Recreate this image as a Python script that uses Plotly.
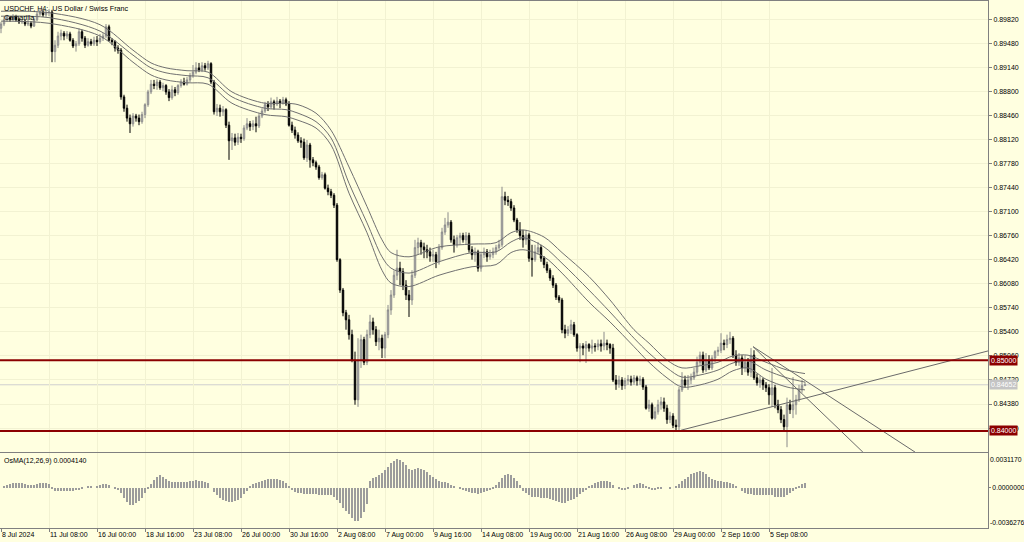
import plotly.graph_objects as go

# ---------------- data ----------------
bar_index = list(range(269))

open_ = [
    0.8969, 0.8975, 0.8981, 0.8984, 0.8982, 0.8985, 0.8981, 0.8978, 0.8979, 0.8975,
    0.8976, 0.8972, 0.8981, 0.8989, 0.8992, 0.8988, 0.8991, 0.8992, 0.8936, 0.8945,
    0.8958, 0.8962, 0.8958, 0.8961, 0.8952, 0.8944, 0.8947, 0.8964, 0.8955, 0.8945,
    0.8950, 0.8947, 0.8952, 0.8950, 0.8955, 0.8958, 0.8971, 0.8952, 0.8950, 0.8941,
    0.8938, 0.8872, 0.8856, 0.8842, 0.8834, 0.8845, 0.8842, 0.8837, 0.8847, 0.8861,
    0.8879, 0.8890, 0.8888, 0.8893, 0.8885, 0.8888, 0.8879, 0.8871, 0.8882, 0.8878,
    0.8888, 0.8893, 0.8890, 0.8896, 0.8902, 0.8907, 0.8913, 0.8910, 0.8916, 0.8913,
    0.8919, 0.8893, 0.8851, 0.8856, 0.8851, 0.8854, 0.8832, 0.8810, 0.8814, 0.8808,
    0.8815, 0.8813, 0.8828, 0.8834, 0.8830, 0.8834, 0.8831, 0.8845, 0.8852, 0.8861,
    0.8858, 0.8865, 0.8862, 0.8866, 0.8863, 0.8868, 0.8862, 0.8832, 0.8825, 0.8818,
    0.8810, 0.8808, 0.8786, 0.8804, 0.8783, 0.8779, 0.8773, 0.8758, 0.8762, 0.8743,
    0.8738, 0.8733, 0.8719, 0.8642, 0.8599, 0.8567, 0.8557, 0.8536, 0.8500, 0.8444,
    0.8500, 0.8529, 0.8497, 0.8536, 0.8554, 0.8543, 0.8526, 0.8531, 0.8517, 0.8536,
    0.8571, 0.8592, 0.8620, 0.8630, 0.8625, 0.8606, 0.8592, 0.8585, 0.8620, 0.8659,
    0.8666, 0.8660, 0.8656, 0.8653, 0.8647, 0.8649, 0.8639, 0.8659, 0.8681, 0.8691,
    0.8695, 0.8670, 0.8663, 0.8673, 0.8676, 0.8670, 0.8676, 0.8656, 0.8649, 0.8653,
    0.8630, 0.8649, 0.8653, 0.8646, 0.8649, 0.8653, 0.8659, 0.8663, 0.8731, 0.8726,
    0.8724, 0.8715, 0.8698, 0.8684, 0.8676, 0.8670, 0.8677, 0.8644, 0.8642, 0.8653,
    0.8659, 0.8644, 0.8635, 0.8627, 0.8616, 0.8606, 0.8589, 0.8585, 0.8543, 0.8538,
    0.8543, 0.8550, 0.8536, 0.8517, 0.8520, 0.8517, 0.8522, 0.8517, 0.8520, 0.8519,
    0.8523, 0.8520, 0.8524, 0.8522, 0.8517, 0.8472, 0.8466, 0.8472, 0.8464, 0.8471,
    0.8473, 0.8469, 0.8475, 0.8471, 0.8473, 0.8462, 0.8432, 0.8437, 0.8418, 0.8427,
    0.8437, 0.8441, 0.8432, 0.8416, 0.8421, 0.8408, 0.8406, 0.8458, 0.8472, 0.8465,
    0.8472, 0.8475, 0.8483, 0.8497, 0.8507, 0.8486, 0.8500, 0.8489, 0.8503, 0.8512,
    0.8514, 0.8524, 0.8522, 0.8529, 0.8531, 0.8507, 0.8497, 0.8503, 0.8489, 0.8497,
    0.8483, 0.8507, 0.8475, 0.8468, 0.8472, 0.8465, 0.8461, 0.8451, 0.8461, 0.8437,
    0.8430, 0.8416, 0.8406, 0.8437, 0.8430, 0.8437, 0.8444, 0.8458, 0.8464,
]

high = [
    0.8978, 0.8985, 0.8988, 0.8986, 0.8989, 0.8988, 0.8984, 0.8982, 0.8982, 0.8981,
    0.8979, 0.8984, 0.8993, 0.8996, 0.8995, 0.8995, 0.8996, 0.8995, 0.8952, 0.8964,
    0.8967, 0.8965, 0.8965, 0.8964, 0.8955, 0.8951, 0.8969, 0.8967, 0.8958, 0.8955,
    0.8954, 0.8957, 0.8958, 0.8961, 0.8962, 0.8975, 0.8974, 0.8955, 0.8952, 0.8945,
    0.8941, 0.8875, 0.8861, 0.8847, 0.8849, 0.8848, 0.8847, 0.8851, 0.8863, 0.8882,
    0.8896, 0.8896, 0.8897, 0.8896, 0.8892, 0.8890, 0.8883, 0.8888, 0.8886, 0.8890,
    0.8897, 0.8899, 0.8900, 0.8906, 0.8917, 0.8921, 0.8920, 0.8921, 0.8920, 0.8923,
    0.8921, 0.8896, 0.8862, 0.8861, 0.8859, 0.8856, 0.8837, 0.8821, 0.8820, 0.8821,
    0.8820, 0.8832, 0.8842, 0.8838, 0.8839, 0.8844, 0.8849, 0.8856, 0.8865, 0.8866,
    0.8871, 0.8868, 0.8872, 0.8869, 0.8872, 0.8871, 0.8866, 0.8837, 0.8830, 0.8822,
    0.8815, 0.8813, 0.8811, 0.8807, 0.8787, 0.8782, 0.8776, 0.8766, 0.8765, 0.8748,
    0.8742, 0.8736, 0.8722, 0.8644, 0.8602, 0.8571, 0.8564, 0.8543, 0.8512, 0.8531,
    0.8536, 0.8533, 0.8543, 0.8564, 0.8560, 0.8548, 0.8543, 0.8536, 0.8540, 0.8578,
    0.8599, 0.8627, 0.8656, 0.8639, 0.8630, 0.8613, 0.8599, 0.8627, 0.8670, 0.8673,
    0.8670, 0.8666, 0.8663, 0.8659, 0.8656, 0.8653, 0.8664, 0.8687, 0.8701, 0.8709,
    0.8698, 0.8676, 0.8677, 0.8680, 0.8680, 0.8681, 0.8680, 0.8661, 0.8659, 0.8656,
    0.8653, 0.8659, 0.8657, 0.8656, 0.8659, 0.8663, 0.8670, 0.8745, 0.8738, 0.8732,
    0.8728, 0.8719, 0.8701, 0.8695, 0.8684, 0.8684, 0.8680, 0.8663, 0.8663, 0.8667,
    0.8663, 0.8647, 0.8639, 0.8630, 0.8620, 0.8609, 0.8592, 0.8588, 0.8550, 0.8548,
    0.8557, 0.8554, 0.8538, 0.8524, 0.8524, 0.8527, 0.8524, 0.8529, 0.8524, 0.8529,
    0.8529, 0.8540, 0.8529, 0.8524, 0.8523, 0.8479, 0.8478, 0.8476, 0.8475, 0.8479,
    0.8478, 0.8479, 0.8478, 0.8478, 0.8476, 0.8465, 0.8444, 0.8440, 0.8434, 0.8444,
    0.8448, 0.8447, 0.8437, 0.8427, 0.8425, 0.8416, 0.8462, 0.8483, 0.8478, 0.8479,
    0.8481, 0.8489, 0.8505, 0.8512, 0.8512, 0.8510, 0.8507, 0.8507, 0.8514, 0.8519,
    0.8538, 0.8529, 0.8536, 0.8540, 0.8534, 0.8514, 0.8510, 0.8507, 0.8507, 0.8503,
    0.8517, 0.8514, 0.8481, 0.8478, 0.8475, 0.8469, 0.8466, 0.8489, 0.8465, 0.8444,
    0.8435, 0.8423, 0.8447, 0.8444, 0.8476, 0.8451, 0.8465, 0.8472, 0.8469,
]

low = [
    0.8962, 0.8972, 0.8978, 0.8978, 0.8979, 0.8978, 0.8975, 0.8975, 0.8972, 0.8972,
    0.8969, 0.8971, 0.8979, 0.8986, 0.8985, 0.8985, 0.8986, 0.8921, 0.8921, 0.8941,
    0.8952, 0.8952, 0.8954, 0.8950, 0.8941, 0.8936, 0.8944, 0.8950, 0.8941, 0.8943,
    0.8944, 0.8944, 0.8944, 0.8947, 0.8951, 0.8955, 0.8950, 0.8945, 0.8936, 0.8933,
    0.8868, 0.8851, 0.8837, 0.8821, 0.8830, 0.8837, 0.8832, 0.8834, 0.8842, 0.8858,
    0.8876, 0.8883, 0.8882, 0.8882, 0.8880, 0.8875, 0.8866, 0.8868, 0.8873, 0.8875,
    0.8885, 0.8888, 0.8888, 0.8893, 0.8899, 0.8904, 0.8907, 0.8907, 0.8909, 0.8910,
    0.8890, 0.8847, 0.8845, 0.8844, 0.8845, 0.8828, 0.8783, 0.8797, 0.8803, 0.8804,
    0.8807, 0.8810, 0.8825, 0.8824, 0.8825, 0.8822, 0.8828, 0.8842, 0.8849, 0.8852,
    0.8855, 0.8854, 0.8859, 0.8856, 0.8861, 0.8859, 0.8830, 0.8821, 0.8813, 0.8807,
    0.8800, 0.8783, 0.8780, 0.8772, 0.8774, 0.8769, 0.8755, 0.8755, 0.8741, 0.8733,
    0.8729, 0.8715, 0.8639, 0.8595, 0.8562, 0.8543, 0.8529, 0.8497, 0.8437, 0.8434,
    0.8489, 0.8493, 0.8493, 0.8531, 0.8536, 0.8520, 0.8514, 0.8503, 0.8503, 0.8531,
    0.8564, 0.8588, 0.8613, 0.8606, 0.8599, 0.8585, 0.8561, 0.8578, 0.8616, 0.8649,
    0.8649, 0.8644, 0.8644, 0.8639, 0.8639, 0.8630, 0.8635, 0.8656, 0.8677, 0.8687,
    0.8666, 0.8652, 0.8659, 0.8663, 0.8666, 0.8663, 0.8652, 0.8642, 0.8639, 0.8625,
    0.8625, 0.8644, 0.8639, 0.8642, 0.8644, 0.8649, 0.8656, 0.8660, 0.8719, 0.8718,
    0.8711, 0.8695, 0.8680, 0.8670, 0.8659, 0.8663, 0.8639, 0.8618, 0.8639, 0.8649,
    0.8639, 0.8630, 0.8623, 0.8612, 0.8602, 0.8585, 0.8581, 0.8538, 0.8531, 0.8534,
    0.8537, 0.8533, 0.8512, 0.8497, 0.8507, 0.8496, 0.8512, 0.8509, 0.8512, 0.8514,
    0.8512, 0.8514, 0.8514, 0.8509, 0.8469, 0.8458, 0.8461, 0.8458, 0.8459, 0.8465,
    0.8464, 0.8465, 0.8464, 0.8465, 0.8458, 0.8430, 0.8427, 0.8416, 0.8416, 0.8423,
    0.8430, 0.8427, 0.8410, 0.8411, 0.8404, 0.8401, 0.8401, 0.8455, 0.8461, 0.8458,
    0.8466, 0.8472, 0.8479, 0.8492, 0.8482, 0.8483, 0.8486, 0.8486, 0.8497, 0.8506,
    0.8510, 0.8514, 0.8517, 0.8523, 0.8503, 0.8492, 0.8492, 0.8479, 0.8483, 0.8478,
    0.8476, 0.8472, 0.8464, 0.8461, 0.8458, 0.8455, 0.8437, 0.8434, 0.8432, 0.8425,
    0.8411, 0.8401, 0.8377, 0.8424, 0.8418, 0.8423, 0.8441, 0.8454, 0.8464,
]

close = [
    0.8975, 0.8981, 0.8984, 0.8982, 0.8985, 0.8981, 0.8978, 0.8979, 0.8975, 0.8976,
    0.8972, 0.8981, 0.8989, 0.8992, 0.8988, 0.8991, 0.8992, 0.8936, 0.8945, 0.8958,
    0.8962, 0.8958, 0.8961, 0.8952, 0.8944, 0.8947, 0.8964, 0.8955, 0.8945, 0.8950,
    0.8947, 0.8952, 0.8950, 0.8955, 0.8958, 0.8971, 0.8952, 0.8950, 0.8941, 0.8938,
    0.8872, 0.8856, 0.8842, 0.8834, 0.8845, 0.8842, 0.8837, 0.8847, 0.8861, 0.8879,
    0.8890, 0.8888, 0.8893, 0.8885, 0.8888, 0.8879, 0.8871, 0.8882, 0.8878, 0.8888,
    0.8893, 0.8890, 0.8896, 0.8902, 0.8907, 0.8913, 0.8910, 0.8916, 0.8913, 0.8919,
    0.8893, 0.8851, 0.8856, 0.8851, 0.8854, 0.8832, 0.8810, 0.8814, 0.8808, 0.8815,
    0.8813, 0.8828, 0.8834, 0.8830, 0.8834, 0.8831, 0.8845, 0.8852, 0.8861, 0.8858,
    0.8865, 0.8862, 0.8866, 0.8863, 0.8868, 0.8862, 0.8832, 0.8825, 0.8818, 0.8810,
    0.8808, 0.8786, 0.8804, 0.8783, 0.8779, 0.8773, 0.8758, 0.8762, 0.8743, 0.8738,
    0.8733, 0.8719, 0.8642, 0.8599, 0.8567, 0.8557, 0.8536, 0.8500, 0.8444, 0.8500,
    0.8529, 0.8497, 0.8536, 0.8554, 0.8543, 0.8526, 0.8531, 0.8517, 0.8536, 0.8571,
    0.8592, 0.8620, 0.8630, 0.8625, 0.8606, 0.8592, 0.8585, 0.8620, 0.8659, 0.8666,
    0.8660, 0.8656, 0.8653, 0.8647, 0.8649, 0.8639, 0.8659, 0.8681, 0.8691, 0.8695,
    0.8670, 0.8663, 0.8673, 0.8676, 0.8670, 0.8676, 0.8656, 0.8649, 0.8653, 0.8630,
    0.8649, 0.8653, 0.8646, 0.8649, 0.8653, 0.8659, 0.8663, 0.8731, 0.8726, 0.8724,
    0.8715, 0.8698, 0.8684, 0.8676, 0.8670, 0.8677, 0.8644, 0.8642, 0.8653, 0.8659,
    0.8644, 0.8635, 0.8627, 0.8616, 0.8606, 0.8589, 0.8585, 0.8543, 0.8538, 0.8543,
    0.8550, 0.8536, 0.8517, 0.8520, 0.8517, 0.8522, 0.8517, 0.8520, 0.8519, 0.8523,
    0.8520, 0.8524, 0.8522, 0.8517, 0.8472, 0.8466, 0.8472, 0.8464, 0.8471, 0.8473,
    0.8469, 0.8475, 0.8471, 0.8473, 0.8462, 0.8432, 0.8437, 0.8418, 0.8427, 0.8437,
    0.8441, 0.8432, 0.8416, 0.8421, 0.8408, 0.8406, 0.8458, 0.8472, 0.8465, 0.8472,
    0.8475, 0.8483, 0.8497, 0.8507, 0.8486, 0.8500, 0.8489, 0.8503, 0.8512, 0.8514,
    0.8524, 0.8522, 0.8529, 0.8531, 0.8507, 0.8497, 0.8503, 0.8489, 0.8497, 0.8483,
    0.8507, 0.8475, 0.8468, 0.8472, 0.8465, 0.8461, 0.8451, 0.8461, 0.8437, 0.8430,
    0.8416, 0.8406, 0.8437, 0.8430, 0.8437, 0.8444, 0.8458, 0.8464, 0.84652,
]

osma = [
    0.0, 0.0001, 0.0002, 0.0003, 0.0004, 0.00045, 0.00045, 0.0004, 0.0003, 0.0002,
    0.0002, 0.0002, 0.0003, 0.0004, 0.0004, 0.0004, 0.00035, -0.0001, -0.0003, -0.0003,
    -0.0003, -0.0003, -0.0003, -0.0003, -0.0003, -0.0002, -0.0002, -0.0001, 0.0, 0.0001,
    0.0001, 0.0, 0.0001, 0.0002, 0.0003, 0.0003, 0.0002, 0.0, -0.0001, -0.0002,
    -0.0005, -0.0009, -0.0013, -0.0016, -0.0016, -0.0014, -0.0012, -0.0009, -0.0005, -0.0001,
    0.0003, 0.0007, 0.0010, 0.0011, 0.0010, 0.0008, 0.0006, 0.0005, 0.0005, 0.0005,
    0.0005, 0.0005, 0.0005, 0.0006, 0.0006, 0.0007, 0.0006, 0.0006, 0.0005, 0.0004,
    0.0, -0.0004, -0.0007, -0.0009, -0.0011, -0.0012, -0.0013, -0.0013, -0.0012, -0.0011,
    -0.0009, -0.0006, -0.0003, 0.0001, 0.0003, 0.0004, 0.0005, 0.0006, 0.0007, 0.0008,
    0.0008, 0.0008, 0.0008, 0.0007, 0.0006, 0.0004, 0.0001, -0.0002, -0.0004, -0.0005,
    -0.0005, -0.0006, -0.0006, -0.0006, -0.0006, -0.0006, -0.0007, -0.0007, -0.0007, -0.0007,
    -0.0007, -0.0008, -0.0011, -0.0014, -0.0018, -0.0021, -0.0024, -0.0027, -0.0030, -0.0030,
    -0.0027, -0.0022, -0.0015, 0.0006, 0.0009, 0.0010, 0.0011, 0.0013, 0.0016, 0.0019,
    0.0022, 0.0024, 0.0026, 0.0025, 0.0023, 0.0020, 0.0017, 0.0016, 0.0017, 0.0018,
    0.0017, 0.0016, 0.0014, 0.0011, 0.0010, 0.0008, 0.0006, 0.0005, 0.0005, 0.0004,
    0.0002, 0.0001, 0.0, -0.0001, -0.0002, -0.0003, -0.0004, -0.0005, -0.0005, -0.0006,
    -0.0005, -0.0004, -0.0003, -0.0002, -0.0001, 0.0002, 0.0005, 0.0009, 0.0011, 0.0012,
    0.0011, 0.0009, 0.0006, 0.0002, -0.0003, -0.0005, -0.0007, -0.0008, -0.0008, -0.0008,
    -0.0009, -0.0009, -0.0009, -0.0010, -0.0011, -0.0012, -0.0013, -0.0014, -0.0014, -0.0012,
    -0.0011, -0.0010, -0.0008, -0.0006, -0.0004, -0.0002, 0.0001, 0.0002, 0.0004, 0.0005,
    0.0006, 0.0006, 0.0006, 0.0005, 0.0002, 0.0, -0.0001, -0.0002, -0.0002, -0.0001,
    0.0, 0.0002, 0.0003, 0.0004, 0.0003, 0.0001, -0.0001, -0.0002, -0.0002, -0.0001,
    -0.0001, 0.0, 0.0, -0.0001, 0.0, 0.0001, 0.0003, 0.0006, 0.0008, 0.0010,
    0.0012, 0.0013, 0.0014, 0.0015, 0.0014, 0.0012, 0.0010, 0.0008, 0.0007, 0.0006,
    0.0006, 0.0005, 0.0005, 0.0004, 0.0003, 0.0001, 0.0, -0.0003, -0.0005, -0.0006,
    -0.0006, -0.0007, -0.0007, -0.0007, -0.0007, -0.0007, -0.0007, -0.0007, -0.0008, -0.0008,
    -0.0008, -0.0008, -0.0007, -0.0005, -0.0003, -0.0001, 0.0001, 0.0003, 0.000414,
]

# moving-average envelope lines, sampled along the chart
ma_idx = [0, 16, 33, 44, 50, 55, 62, 69, 77, 88, 95, 99, 105, 110, 116, 122, 127, 130,
          136, 146, 157, 165, 170, 174, 181, 187, 196, 203, 211, 216, 222, 227, 233,
          239, 244, 249, 255, 262, 268]
ma_upper = [0.8993, 0.8991, 0.8974, 0.8938, 0.8920, 0.8913, 0.8909, 0.8907, 0.8879,
            0.8863, 0.8863, 0.8861, 0.8849, 0.8825, 0.8773, 0.8717, 0.8670, 0.8652,
            0.8646, 0.8660, 0.8664, 0.8666, 0.8680, 0.8684, 0.8674, 0.8652, 0.8618,
            0.8585, 0.8543, 0.8524, 0.8500, 0.8489, 0.8492, 0.8497, 0.8506, 0.8507,
            0.8497, 0.8486, 0.8481]
ma_middle = [0.8986, 0.8984, 0.8965, 0.8931, 0.8913, 0.8906, 0.8902, 0.8899, 0.8872,
             0.8856, 0.8854, 0.8849, 0.8837, 0.8814, 0.8750, 0.8694, 0.8646, 0.8630,
             0.8623, 0.8639, 0.8652, 0.8653, 0.8667, 0.8673, 0.8660, 0.8637, 0.8599,
             0.8568, 0.8531, 0.8510, 0.8489, 0.8476, 0.8479, 0.8486, 0.8496, 0.8499,
             0.8486, 0.8475, 0.8469]
ma_lower = [0.8979, 0.8976, 0.8958, 0.8921, 0.8903, 0.8896, 0.8892, 0.8890, 0.8863,
            0.8847, 0.8844, 0.8839, 0.8828, 0.8804, 0.8736, 0.8680, 0.8627, 0.8609,
            0.8604, 0.8620, 0.8632, 0.8635, 0.8652, 0.8656, 0.8646, 0.8623, 0.8582,
            0.8554, 0.8519, 0.8497, 0.8475, 0.8462, 0.8465, 0.8473, 0.8485, 0.8489,
            0.8473, 0.8462, 0.8458]

# trend lines (bar index, price)
trend_up_x = [226.7, 329.0]
trend_up_y = [0.8401, 0.8513]
trend_a_x = [250.7, 287.3]
trend_a_y = [0.8519, 0.8370]
trend_b_x = [250.7, 304.7]
trend_b_y = [0.8519, 0.8370]

levels = [0.85, 0.84]
level_labels = ["0.85000", "0.84000"]
last_price = 0.84652

price_ticks = [0.89820, 0.89480, 0.89140, 0.88800, 0.88460, 0.88120, 0.87780, 0.87440,
               0.87100, 0.86760, 0.86420, 0.86080, 0.85740, 0.85400, 0.85060, 0.84720,
               0.84380, 0.84040]
time_tick_idx = [0, 16, 32, 48, 64, 80, 96, 112, 128, 144, 160, 176, 192, 208, 224, 240, 256]
time_tick_labels = ["8 Jul 2024", "11 Jul 08:00", "16 Jul 00:00", "18 Jul 16:00",
                    "23 Jul 08:00", "26 Jul 00:00", "30 Jul 16:00", "2 Aug 08:00",
                    "7 Aug 00:00", "9 Aug 16:00", "14 Aug 08:00", "19 Aug 00:00",
                    "21 Aug 16:00", "26 Aug 08:00", "29 Aug 00:00", "2 Sep 16:00",
                    "5 Sep 08:00"]
osc_max = 0.0031170
osc_min = -0.0036276
price_min = 0.83702
price_max = 0.90075

# ---------------- figure ----------------
BG = "#FFFFE0"
AX = "#808080"
GRID = "#F2F2D2"
FONT = "Liberation Sans, Arial, sans-serif"

fig = go.Figure()

fig.add_trace(go.Candlestick(
    x=bar_index, open=open_, high=high, low=low, close=close,
    increasing=dict(line=dict(color="#8A8A8A", width=1), fillcolor="#C8C8C8"),
    decreasing=dict(line=dict(color="#000000", width=1), fillcolor="#000000"),
    whiskerwidth=0, xaxis="x", yaxis="y", showlegend=False, hoverinfo="skip"))

for series in (ma_upper, ma_middle, ma_lower):
    fig.add_trace(go.Scatter(
        x=ma_idx, y=series, mode="lines", xaxis="x", yaxis="y",
        line=dict(color="#707070", width=1, shape="spline", smoothing=0.9),
        showlegend=False, hoverinfo="skip"))

for tx, ty in ((trend_up_x, trend_up_y), (trend_a_x, trend_a_y), (trend_b_x, trend_b_y)):
    fig.add_trace(go.Scatter(
        x=tx, y=ty, mode="lines", xaxis="x", yaxis="y",
        line=dict(color="#6A6A6A", width=1), showlegend=False, hoverinfo="skip"))

fig.add_trace(go.Bar(
    x=bar_index, y=osma, xaxis="x2", yaxis="y2", width=0.4,
    marker=dict(color="#9C9C9C", line=dict(width=0)),
    showlegend=False, hoverinfo="skip"))

shapes = [dict(type="line", xref="x domain", x0=0, x1=1, yref="y",
               y0=last_price, y1=last_price, line=dict(color="#CFCFCF", width=1),
               layer="below")]
for lv in levels:
    shapes.append(dict(type="line", xref="x domain", x0=0, x1=1, yref="y",
                       y0=lv, y1=lv, line=dict(color="#8B0000", width=2), layer="above"))

annotations = [
    dict(text="USDCHF, H4:\u00a0 US Dollar / Swiss Franc", xref="paper", x=0.002,
         yref="paper", y=1, xanchor="left", yanchor="top", yshift=-1,
         showarrow=False, font=dict(size=7.2, color="#000000", family=FONT)),
    dict(text="Camarilla", xref="paper", x=0.002,
         yref="paper", y=1, xanchor="left", yanchor="top", yshift=-10,
         showarrow=False, font=dict(size=7.2, color="#000000", family=FONT)),
    dict(text="OsMA(12,26,9) 0.0004140", xref="paper", x=0.002,
         yref="y2 domain", y=1, xanchor="left", yanchor="top", yshift=-2,
         showarrow=False, font=dict(size=7, color="#000000", family=FONT)),
    dict(text="0.0031170", xref="paper", x=1, xanchor="left", xshift=0,
         yref="y2 domain", y=1, yanchor="top", yshift=-1,
         showarrow=False, font=dict(size=6.8, color="#000000", family=FONT)),
    dict(text="-0.0036276", xref="paper", x=1, xanchor="left", xshift=0,
         yref="y2 domain", y=0, yanchor="bottom", yshift=0,
         showarrow=False, font=dict(size=6.8, color="#000000", family=FONT)),
]
for lv, lab in zip(levels, level_labels):
    annotations.append(dict(text=lab, xref="paper", x=1, xanchor="left", xshift=1,
                            yref="y", y=lv, yanchor="middle", showarrow=False,
                            bgcolor="#8B0000", borderpad=1,
                            font=dict(size=7, color="#FFFFFF", family=FONT)))
annotations.append(dict(text=f"{last_price:.5f}", xref="paper", x=1, xanchor="left",
                        xshift=1, yref="y", y=last_price, yanchor="middle",
                        showarrow=False, bgcolor="#C4C4C4", borderpad=1,
                        font=dict(size=7, color="#FFFFFF", family=FONT)))

H_PLOT = 542 - 1 - 14
main_bottom = 76 / H_PLOT
osc_top = 75 / H_PLOT
x_range = [-1 / 3, 329]

fig.update_layout(
    width=1024, height=542,
    margin=dict(l=0, r=36, t=1, b=14, autoexpand=False),
    paper_bgcolor=BG, plot_bgcolor=BG,
    showlegend=False, bargap=0,
    font=dict(family=FONT, size=7, color="#000000"),
    shapes=shapes, annotations=annotations,
    xaxis=dict(domain=[0, 1], range=x_range, anchor="y", showticklabels=False,
               ticks="", tickvals=time_tick_idx, showgrid=True, gridcolor=GRID,
               zeroline=False, showline=True, linecolor=AX, linewidth=1, mirror=True,
               rangeslider=dict(visible=False), fixedrange=True),
    yaxis=dict(domain=[main_bottom, 1], range=[price_min, price_max], side="right",
               anchor="x", tickvals=price_ticks, tickformat=".5f", ticks="outside",
               ticklen=3, tickcolor=AX, showgrid=True, gridcolor=GRID, zeroline=False,
               showline=True, linecolor=AX, linewidth=1, mirror=True,
               automargin=False, tickfont=dict(size=7, family=FONT)),
    xaxis2=dict(domain=[0, 1], range=x_range, anchor="y2", tickvals=time_tick_idx,
                ticktext=time_tick_labels, ticks="outside", ticklen=3, tickcolor=AX,
                tickangle=0, ticklabelposition="outside right", showgrid=True,
                gridcolor=GRID, zeroline=False, showline=True, linecolor=AX,
                linewidth=1, mirror=True, automargin=False,
                tickfont=dict(size=7, family=FONT)),
    yaxis2=dict(domain=[0, osc_top], range=[osc_min, osc_max], side="right",
                anchor="x2", tickvals=[0.0], ticktext=["0.0000000"], ticks="outside",
                ticklen=2, tickcolor=AX, showgrid=False, zeroline=False,
                showline=True, linecolor=AX, linewidth=1, mirror=True,
                automargin=False, tickfont=dict(size=6.8, family=FONT)),
)

fig.write_html(
    "out.html",
    config={"displayModeBar": False},
    post_script="document.body.style.margin='0';document.body.style.overflow='hidden';",
)
